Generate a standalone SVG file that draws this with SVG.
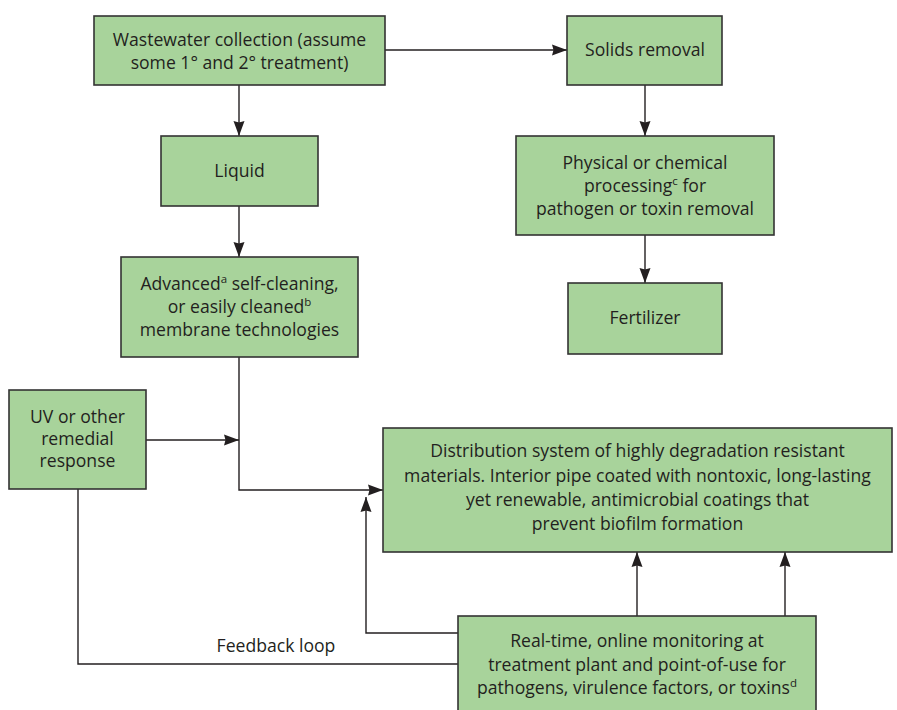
<svg xmlns="http://www.w3.org/2000/svg" width="897" height="710" viewBox="0 0 897 710">
<style>
.box rect{fill:#a8d39b;stroke:#333;stroke-width:1.6}
text{font-family:"Open Sans","Noto Sans",sans-serif;font-size:17.6px;fill:#231f20;text-anchor:middle}
.sup{font-size:11.5px}
.conn path{fill:none;stroke:#231f20;stroke-width:1.4}
</style>
<defs>
<marker id="ah" markerUnits="userSpaceOnUse" markerWidth="16" markerHeight="12" refX="15" refY="6" orient="auto">
<path d="M0,0.5 L15,6 L0,11.5 L1.5,6 Z" fill="#231f20"/>
</marker>
</defs>
<rect width="897" height="710" fill="#fff"/>
<g class="conn">
<path d="M385,50 H567" marker-end="url(#ah)"/>
<path d="M239,85 V136" marker-end="url(#ah)"/>
<path d="M239,206 V257" marker-end="url(#ah)"/>
<path d="M645,85 V136" marker-end="url(#ah)"/>
<path d="M645,235 V283" marker-end="url(#ah)"/>
<path d="M239,357 V490 H383" marker-end="url(#ah)"/>
<path d="M146,440 H239" marker-end="url(#ah)"/>
<path d="M637,616 V552" marker-end="url(#ah)"/>
<path d="M785,616 V552" marker-end="url(#ah)"/>
<path d="M458,633 H366 V497" marker-end="url(#ah)"/>
<path d="M78,489 V664 H458"/>
<text x="276" y="652">Feedback loop</text>
</g>
<g id="wastewater" class="box"><rect x="94" y="16" width="291" height="69"/>
<text x="239.5" y="46">Wastewater collection (assume</text>
<text x="239.5" y="69">some 1° and 2° treatment)</text></g>
<g id="solids" class="box"><rect x="567" y="16" width="155" height="69"/>
<text x="645" y="56">Solids removal</text></g>
<g id="liquid" class="box"><rect x="161" y="136" width="157" height="70"/>
<text x="239.5" y="177">Liquid</text></g>
<g id="physical" class="box"><rect x="516" y="136" width="258" height="99"/>
<text x="645" y="169">Physical or chemical</text>
<text x="645" y="192">processing<tspan class="sup" dy="-7">c</tspan><tspan dy="7"> for</tspan></text>
<text x="645" y="215">pathogen or toxin removal</text></g>
<g id="fertilizer" class="box"><rect x="568" y="283" width="154" height="71"/>
<text x="645" y="324">Fertilizer</text></g>
<g id="advanced" class="box"><rect x="121" y="257" width="237" height="100"/>
<text x="239.5" y="290">Advanced<tspan class="sup" dy="-7">a</tspan><tspan dy="7"> self-cleaning,</tspan></text>
<text x="239.5" y="313">or easily cleaned<tspan class="sup" dy="-7">b</tspan></text>
<text x="239.5" y="336">membrane technologies</text></g>
<g id="uv" class="box"><rect x="9" y="390" width="137" height="99"/>
<text x="77.5" y="423">UV or other</text>
<text x="77.5" y="445">remedial</text>
<text x="77.5" y="467">response</text></g>
<g id="distribution" class="box"><rect x="383" y="428" width="509" height="124"/>
<text x="637.5" y="457">Distribution system of highly degradation resistant</text>
<text x="637.5" y="482">materials. Interior pipe coated with nontoxic, long-lasting</text>
<text x="637.5" y="506">yet renewable, antimicrobial coatings that</text>
<text x="637.5" y="530">prevent biofilm formation</text></g>
<g id="monitoring" class="box"><rect x="458" y="616" width="358" height="100"/>
<text x="637" y="647">Real-time, online monitoring at</text>
<text x="637" y="671">treatment plant and point-of-use for</text>
<text x="637" y="694">pathogens, virulence factors, or toxins<tspan class="sup" dy="-7">d</tspan></text></g>
</svg>
